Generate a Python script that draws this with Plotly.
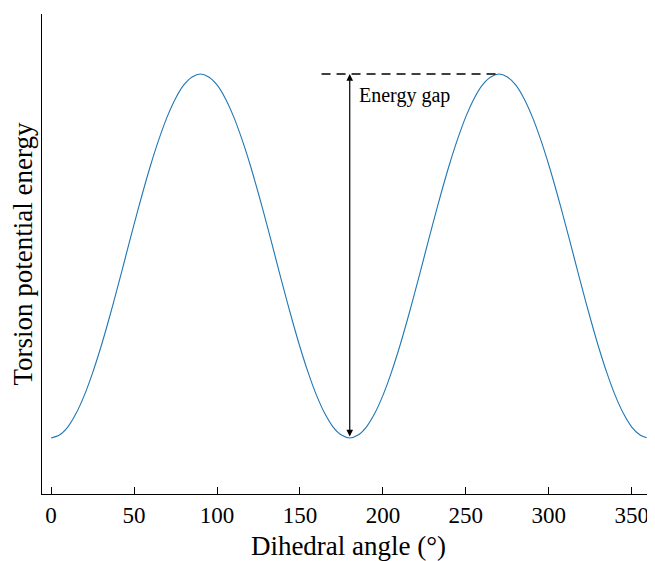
import plotly.graph_objects as go

# Dihedral angle (degrees) and torsion energy
angles = [0, 5, 10, 15, 20, 25, 30, 35, 40, 45, 50, 55, 60, 65, 70, 75, 80, 85, 90,
          95, 100, 105, 110, 115, 120, 125, 130, 135, 140, 145, 150, 155, 160, 165, 170, 175, 180,
          185, 190, 195, 200, 205, 210, 215, 220, 225, 230, 235, 240, 245, 250, 255, 260, 265, 270,
          275, 280, 285, 290, 295, 300, 305, 310, 315, 320, 325, 330, 335, 340, 345, 350, 355, 359]
energy = [0.0, 0.008, 0.03, 0.067, 0.117, 0.179, 0.25, 0.329, 0.413, 0.5, 0.587, 0.671, 0.75, 0.821, 0.883, 0.933, 0.97, 0.992, 1.0,
          0.992, 0.97, 0.933, 0.883, 0.821, 0.75, 0.671, 0.587, 0.5, 0.413, 0.329, 0.25, 0.179, 0.117, 0.067, 0.03, 0.008, 0.0,
          0.008, 0.03, 0.067, 0.117, 0.179, 0.25, 0.329, 0.413, 0.5, 0.587, 0.671, 0.75, 0.821, 0.883, 0.933, 0.97, 0.992, 1.0,
          0.992, 0.97, 0.933, 0.883, 0.821, 0.75, 0.671, 0.587, 0.5, 0.413, 0.329, 0.25, 0.179, 0.117, 0.067, 0.03, 0.008, 0.0003]
x_ticks = [0, 50, 100, 150, 200, 250, 300, 350]

gap_x = 180
gap_low = 0.0
gap_high = 1.0
dash_x0, dash_x1 = 163, 270

FONT = "Liberation Serif"

fig = go.Figure()
fig.add_trace(go.Scatter(x=angles, y=energy, mode="lines",
                         line=dict(color="#1f77b4", width=1.1, shape="spline", smoothing=0.8),
                         showlegend=False, hoverinfo="skip"))

# dashed line at the top
fig.add_trace(go.Scatter(x=[dash_x0, dash_x1], y=[gap_high, gap_high], mode="lines",
                         line=dict(color="black", width=1.5, dash="9px,6px"), showlegend=False, hoverinfo="skip"))

# double arrow
fig.add_annotation(x=gap_x, y=gap_high, ax=gap_x, ay=gap_low, xref="x", yref="y", axref="x", ayref="y",
                   showarrow=True, arrowhead=2, startarrowhead=2, arrowside="end+start", arrowsize=1.1,
                   arrowwidth=1.2, arrowcolor="black", text="")
fig.add_annotation(x=184.5, y=0.94, xref="x", yref="y", text="Energy gap", showarrow=False,
                   xanchor="left", yanchor="middle", font=dict(family=FONT, size=20, color="black"))

# page body adds an 8px offset, so the figure is sized to fit the remaining window
fig.update_layout(
    width=647, height=553,
    margin=dict(l=34, r=0, t=6, b=67),
    plot_bgcolor="white", paper_bgcolor="white",
    font=dict(family=FONT, color="black"),
    xaxis=dict(range=[-5.5, 364], tickvals=x_ticks, ticks="inside", ticklen=7, tickcolor="black", tickwidth=1,
               showline=True, linecolor="black", linewidth=1.2, showgrid=False, zeroline=False, automargin=False,
               tickfont=dict(family=FONT, size=23),
               title=dict(text="Dihedral angle (°)", font=dict(family=FONT, size=27), standoff=10)),
    yaxis=dict(range=[-0.154, 1.165], showticklabels=False, ticks="", showline=True, linecolor="black",
               linewidth=1.2, showgrid=False, zeroline=False, automargin=False,
               title=dict(text="Torsion potential energy", font=dict(family=FONT, size=27), standoff=6)),
)

fig.write_html("out.html")
